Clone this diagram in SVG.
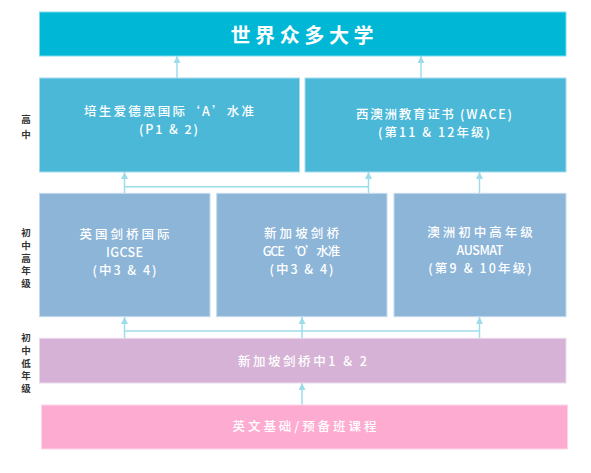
<svg xmlns="http://www.w3.org/2000/svg" width="591" height="473" viewBox="0 0 591 473">
<style>
  .t { font-family: "Noto Sans CJK SC", "Liberation Sans", sans-serif; fill: #ffffff; font-size: 12.5px; text-anchor: middle; font-weight: 500; }
  .title { font-size: 20px; font-weight: bold; }
  .side { font-family: "Noto Sans CJK SC", "Liberation Serif", serif; fill: #333333; font-size: 9.5px; text-anchor: middle; font-weight: bold; writing-mode: vertical-rl; }
  .conn { stroke: #9CDCEB; stroke-width: 1.5; fill: none; }
  .b0 { fill: #00B8D6; stroke: #7FDCEC; stroke-width: 1; }
  .b1 { fill: #4BB8D8; stroke: #A5DCEC; stroke-width: 1; }
  .b2 { fill: #8CB5D8; stroke: #C6DAEC; stroke-width: 1; }
  .b3 { fill: #D6B3D6; stroke: #EBD9EB; stroke-width: 1; }
  .b4 { fill: #FEABD1; stroke: #FFD5E8; stroke-width: 1; }
</style>
<defs>
  <marker id="arr" viewBox="0 0 10 10" refX="10" refY="5" markerWidth="7" markerHeight="7" markerUnits="userSpaceOnUse" orient="auto">
    <path d="M0,0 L10,5 L0,10 Z" fill="#9CDCEB"/>
  </marker>
</defs>
<rect width="591" height="473" fill="#ffffff"/>

<g id="side-labels">
  <text class="side" x="26" y="127" textLength="24" lengthAdjust="spacing">高中</text>
  <text class="side" x="26" y="258" textLength="61" lengthAdjust="spacing">初中高年级</text>
  <text class="side" x="26" y="363" textLength="61" lengthAdjust="spacing">初中低年级</text>
</g>

<g id="connectors">
  <line class="conn" x1="177" y1="78" x2="177" y2="56" marker-end="url(#arr)"/>
  <line class="conn" x1="421" y1="78" x2="421" y2="56" marker-end="url(#arr)"/>
  <line class="conn" x1="124.5" y1="193" x2="124.5" y2="172" marker-end="url(#arr)"/>
  <line class="conn" x1="368.5" y1="193" x2="368.5" y2="172" marker-end="url(#arr)"/>
  <line class="conn" x1="124.5" y1="186.7" x2="368.5" y2="186.7"/>
  <line class="conn" x1="479.5" y1="193" x2="479.5" y2="172" marker-end="url(#arr)"/>
  <line class="conn" x1="124.5" y1="338" x2="124.5" y2="317" marker-end="url(#arr)"/>
  <line class="conn" x1="302" y1="338" x2="302" y2="317" marker-end="url(#arr)"/>
  <line class="conn" x1="479.5" y1="338" x2="479.5" y2="317" marker-end="url(#arr)"/>
  <line class="conn" x1="124.5" y1="331" x2="479.5" y2="331"/>
  <line class="conn" x1="302" y1="405" x2="302" y2="383" marker-end="url(#arr)"/>
</g>

<g id="universities">
  <rect class="b0" x="39.5" y="12" width="526.5" height="44"/>
  <text class="t title" x="302" y="42.5" textLength="143" lengthAdjust="spacing">世界众多大学</text>
</g>

<g id="a-level">
  <rect class="b1" x="39.5" y="78" width="260" height="94"/>
  <text class="t" x="169" y="115.5" textLength="170" lengthAdjust="spacing">培生爱德思国际‘A’水准</text>
  <text class="t" x="168.5" y="134" textLength="59" lengthAdjust="spacing">(P1 &amp; 2)</text>
</g>

<g id="wace">
  <rect class="b1" x="305" y="78" width="261" height="94"/>
  <text class="t" x="434" y="118.5" textLength="156" lengthAdjust="spacing">西澳洲教育证书 (WACE)</text>
  <text class="t" x="434" y="136.5" textLength="112" lengthAdjust="spacing">(第11 &amp; 12年级)</text>
</g>

<g id="igcse">
  <rect class="b2" x="39.5" y="193.3" width="170.5" height="123.4"/>
  <text class="t" x="124.5" y="238.5" textLength="90" lengthAdjust="spacing">英国剑桥国际</text>
  <text class="t" x="124.5" y="256.5" textLength="37" lengthAdjust="spacing">IGCSE</text>
  <text class="t" x="124.5" y="274.5" textLength="64" lengthAdjust="spacing">(中3 &amp; 4)</text>
</g>

<g id="o-level">
  <rect class="b2" x="216.7" y="193.3" width="170.3" height="123.4"/>
  <text class="t" x="301.5" y="238" textLength="75" lengthAdjust="spacing">新加坡剑桥</text>
  <text class="t" x="301.5" y="256" textLength="77.5" lengthAdjust="spacing">GCE ‘O’水准</text>
  <text class="t" x="301.5" y="274" textLength="64" lengthAdjust="spacing">(中3 &amp; 4)</text>
</g>

<g id="ausmat">
  <rect class="b2" x="394" y="193.3" width="172" height="123.4"/>
  <text class="t" x="480" y="237" textLength="105.5" lengthAdjust="spacing">澳洲初中高年级</text>
  <text class="t" x="480" y="255" textLength="47" lengthAdjust="spacing">AUSMAT</text>
  <text class="t" x="480" y="273" textLength="103.5" lengthAdjust="spacing">(第9 &amp; 10年级)</text>
</g>

<g id="sec12">
  <rect class="b3" x="39.5" y="338.3" width="526.5" height="44.7"/>
  <text class="t" x="302.5" y="365.5" textLength="129" lengthAdjust="spacing">新加坡剑桥中1 &amp; 2</text>
</g>

<g id="foundation">
  <rect class="b4" x="41.5" y="405" width="526" height="44"/>
  <text class="t" x="304.5" y="430.5" textLength="144" lengthAdjust="spacing">英文基础/预备班课程</text>
</g>
</svg>
